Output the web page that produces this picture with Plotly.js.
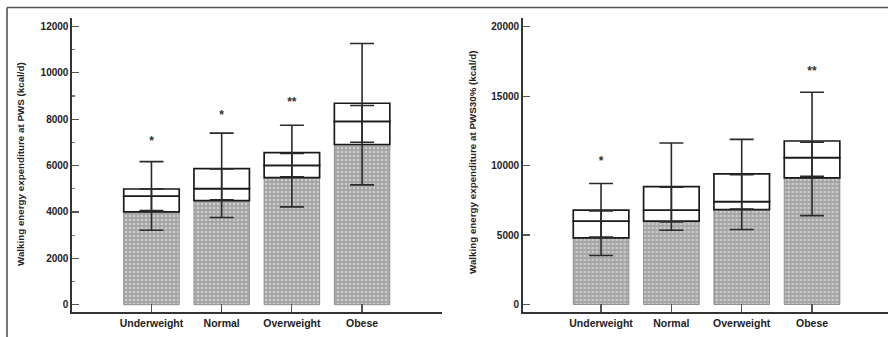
<!DOCTYPE html>
<html>
<head>
<meta charset="utf-8">
<script src="https://cdn.plot.ly/plotly-3.0.1.min.js"></script>
<style>html,body{margin:0;padding:0;background:#fff;}#chart{width:888px;height:337px;}</style>
</head>
<body>
<div id="chart"></div>
<script>
// ---- data ----
const categories = ['Underweight', 'Normal', 'Overweight', 'Obese'];

// Left panel: walking energy expenditure at PWS (kcal/d)
const q1PWS     = [4000, 4490, 5480, 6910];
const medianPWS = [4680, 5010, 6010, 7910];
const q3PWS     = [4990, 5870, 6560, 8690];
const minPWS    = [3210, 3760, 4220, 5170];
const maxPWS    = [6170, 7400, 7740, 11270];
const ciLowPWS  = [4060, 4530, 5520, 7010];
const ciHighPWS = [4990, 5860, 6520, 8590];
const sigPWS    = ['*', '*', '**', ''];
const sigYPWS   = [7270, 8420, 8950, null];

// Right panel: walking energy expenditure at PWS30% (kcal/d)
const q1PWS30     = [4800, 6000, 6830, 9110];
const medianPWS30 = [6000, 6790, 7410, 10580];
const q3PWS30     = [6790, 8490, 9400, 11770];
const minPWS30    = [3530, 5350, 5400, 6400];
const maxPWS30    = [8710, 11630, 11890, 15280];
const ciLowPWS30  = [4850, 5950, 6880, 9230];
const ciHighPWS30 = [6740, 8450, 9350, 11680];
const sigPWS30    = ['*', '', '', '**'];
const sigYPWS30   = [10670, null, null, 17150];

const xTitles = ['Walking energy expenditure at PWS (kcal/d)',
                 'Walking energy expenditure at PWS30% (kcal/d)'];

// ---- build traces ----
const pos = categories.map((c, i) => i);
const BW = 0.79;
const boldFont = {family: 'Liberation Sans, Arial, sans-serif', weight: 'bold', color: '#222'};

function panel(q1, med, q3, mn, mx, ciLo, ciHi, sig, sigY, xa, ya) {
  const tr = [];
  tr.push({
    type: 'bar', x: pos, y: q1, base: 0, width: BW, xaxis: xa, yaxis: ya,
    marker: {color: '#ababab',
             pattern: {shape: '.', bgcolor: '#a4a4a4', fgcolor: '#cdcdcd', size: 4, solidity: 0.35},
             line: {color: '#8f8f8f', width: 1}},
    hoverinfo: 'skip', showlegend: false
  });
  tr.push({
    type: 'bar', x: pos, base: q1, y: med.map((m, i) => m - q1[i]), width: BW, xaxis: xa, yaxis: ya,
    marker: {color: '#ffffff', line: {color: '#1a1a1a', width: 1.7}},
    hoverinfo: 'skip', showlegend: false
  });
  tr.push({
    type: 'bar', x: pos, base: med, y: q3.map((v, i) => v - med[i]), width: BW, xaxis: xa, yaxis: ya,
    marker: {color: '#ffffff', line: {color: '#1a1a1a', width: 1.7}},
    hoverinfo: 'skip', showlegend: false
  });
  tr.push({
    type: 'scatter', mode: 'markers', x: pos, y: med, xaxis: xa, yaxis: ya,
    marker: {size: 1, opacity: 0},
    error_y: {type: 'data', symmetric: false,
              array: mx.map((v, i) => v - med[i]),
              arrayminus: mn.map((v, i) => med[i] - v),
              width: 12, thickness: 1.6, color: '#2a2a2a'},
    hoverinfo: 'skip', showlegend: false
  });
  tr.push({
    type: 'scatter', mode: 'markers', x: pos, y: ciLo, xaxis: xa, yaxis: ya,
    marker: {size: 1, opacity: 0},
    error_y: {type: 'data', symmetric: false,
              array: ciHi.map((v, i) => v - ciLo[i]),
              arrayminus: ciLo.map(() => 0),
              width: 12, thickness: 1.6, color: '#2a2a2a'},
    hoverinfo: 'skip', showlegend: false
  });
  tr.push({
    type: 'scatter', mode: 'text', x: pos, y: sigY, text: sig, xaxis: xa, yaxis: ya,
    textposition: 'bottom center',
    textfont: Object.assign({}, boldFont, {size: 12, color: '#333'}),
    hoverinfo: 'skip', showlegend: false
  });
  return tr;
}

const data = []
  .concat(panel(q1PWS, medianPWS, q3PWS, minPWS, maxPWS, ciLowPWS, ciHighPWS, sigPWS, sigYPWS, 'x', 'y'))
  .concat(panel(q1PWS30, medianPWS30, q3PWS30, minPWS30, maxPWS30, ciLowPWS30, ciHighPWS30, sigPWS30, sigYPWS30, 'x2', 'y2'));

const W = 888, H = 337;
const yDom = [1 - 312.3 / H, 1 - 18 / H];

function xAxis(domain, range) {
  return {
    domain: domain, range: range, tickmode: 'array', tickvals: pos, ticktext: categories,
    ticks: 'inside', ticklen: 8, tickwidth: 1.2, tickcolor: '#555',
    showline: true, linecolor: '#333', linewidth: 1.6,
    showgrid: false, zeroline: false, fixedrange: true,
    tickfont: Object.assign({}, boldFont, {size: 10.5})
  };
}
function yAxis(anchor, range, dtick, minor) {
  const a = {
    anchor: anchor, domain: yDom, range: range, tick0: 0, dtick: dtick, tickformat: 'd',
    ticks: 'inside', ticklen: 7, tickwidth: 1.2, tickcolor: '#555',
    showline: true, linecolor: '#333', linewidth: 1.6,
    showgrid: false, zeroline: false, fixedrange: true,
    tickfont: Object.assign({}, boldFont, {size: 10})
  };
  if (minor) a.minor = {dtick: minor, ticks: 'inside', ticklen: 3, tickcolor: '#777', showgrid: false};
  return a;
}

const layout = {
  width: W, height: H,
  margin: {l: 0, r: 0, t: 0, b: 0},
  paper_bgcolor: '#ffffff', plot_bgcolor: 'rgba(0,0,0,0)',
  barmode: 'overlay', showlegend: false,
  xaxis: xAxis([72 / W, 441.7 / W], [-1.132, 4.134]),
  yaxis: yAxis('x', [-328, 12367], 2000, 1000),
  xaxis2: Object.assign(xAxis([522.7 / W, 1], [-1.114, 4.08]), {anchor: 'y2'}),
  yaxis2: yAxis('x2', [-562, 20626], 5000, null),
  annotations: [
    {text: xTitles[0], xref: 'paper', yref: 'paper', x: 21 / W, y: 1 - 164 / H,
     xanchor: 'center', yanchor: 'middle', textangle: -90, showarrow: false,
     font: Object.assign({}, boldFont, {size: 9.8})},
    {text: xTitles[1], xref: 'paper', yref: 'paper', x: 473 / W, y: 1 - 163 / H,
     xanchor: 'center', yanchor: 'middle', textangle: -90, showarrow: false,
     font: Object.assign({}, boldFont, {size: 9.8})}
  ],
  shapes: [
    {type: 'line', xref: 'paper', yref: 'paper', x0: 7 / W, x1: 1, y0: 1 - 7.5 / H, y1: 1 - 7.5 / H,
     line: {color: '#555', width: 1.6}},
    {type: 'line', xref: 'paper', yref: 'paper', x0: 7 / W, x1: 7 / W, y0: 0, y1: 1 - 7.5 / H,
     line: {color: '#555', width: 1.6}}
  ]
};

Plotly.newPlot('chart', data, layout, {staticPlot: true, displayModeBar: false});
</script>
</body>
</html>
